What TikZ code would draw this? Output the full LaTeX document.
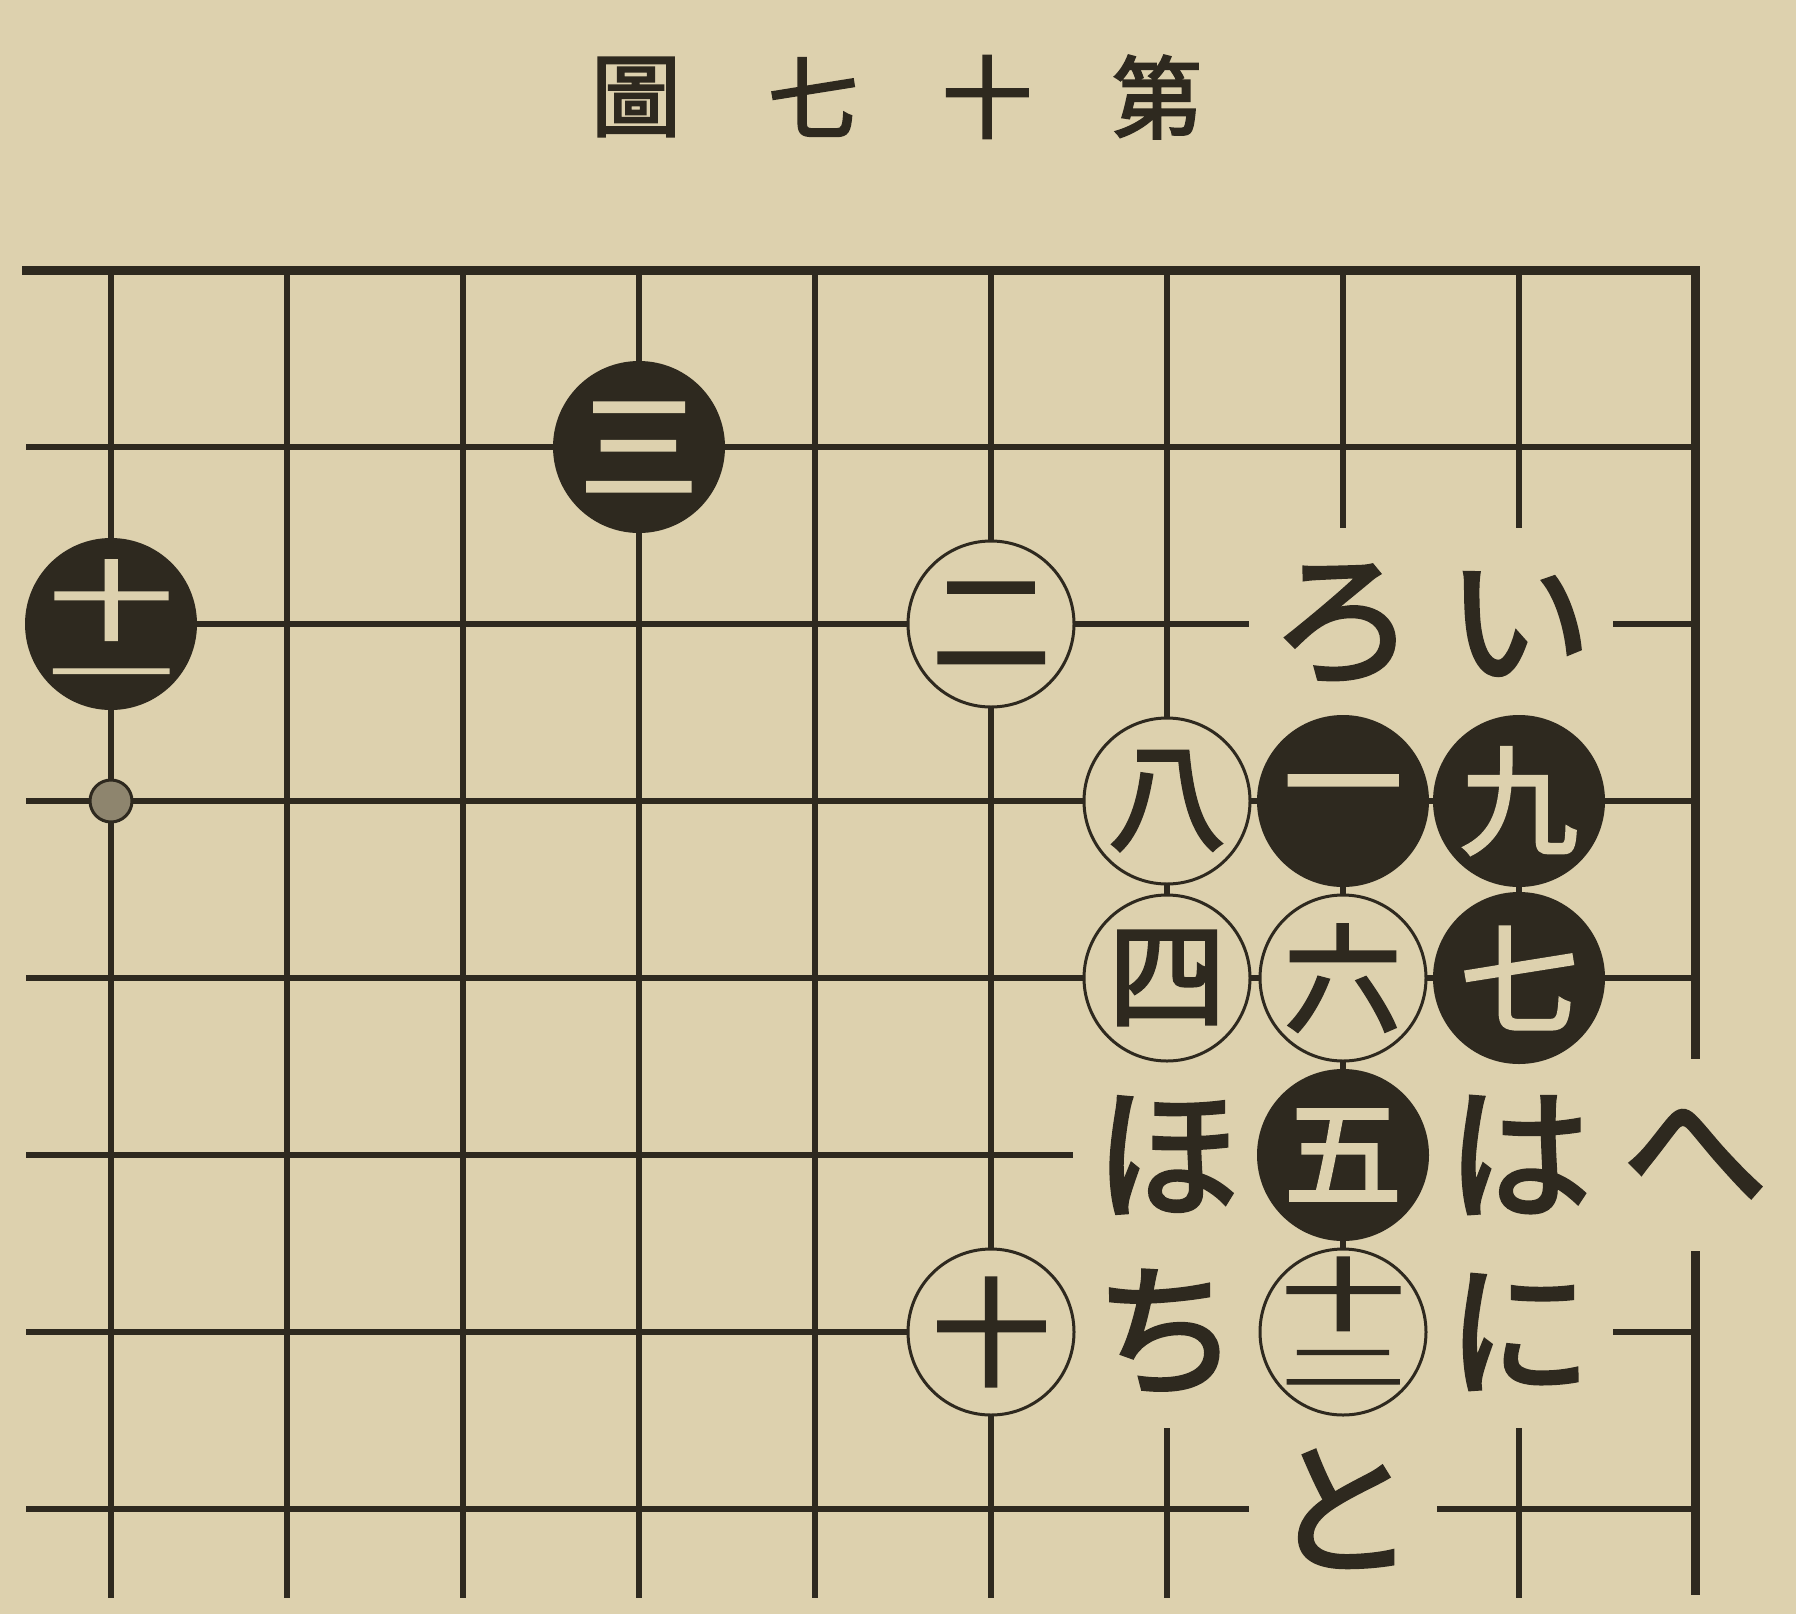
\documentclass[tikz,border=0pt]{standalone}
\usepackage{fontspec}
\usepackage{graphicx}
\newfontfamily\cjk{Noto Sans CJK JP}[FakeBold=2.5]
\definecolor{paper}{HTML}{DDD1AE}
\definecolor{ink}{HTML}{2E291F}
\newcommand{\fs}[1]{\cjk\fontsize{#1}{#1}\selectfont}
% stacked two-part numeral: #1 raise of top, #2 yscale top, #3 top glyph, #4 raise of bottom, #5 yscale bottom, #6 bottom glyph
\newcommand{\stacknum}[6]{\makebox[0pt]{\raisebox{#1}[0pt][0pt]{\scalebox{1}[#2]{#3}}}\makebox[0pt]{\raisebox{#4}[0pt][0pt]{\scalebox{1}[#5]{#6}}}}
\tikzset{
  gridline/.style={draw=ink, line width=6pt},
  edgeline/.style={draw=ink, line width=9pt},
  wstone/.style={circle, draw=ink, line width=3pt, fill=paper, minimum size=166pt, inner sep=0pt, text=ink, font=\fs{118}},
  bstone/.style={circle, draw=ink, line width=2pt, fill=ink, minimum size=170pt, inner sep=0pt, text=paper, font=\fs{118}},
  kana/.style={rectangle, fill=paper, minimum width=188pt, minimum height=192pt, inner sep=0pt, text=ink, font=\fs{145}},
  titlechar/.style={inner sep=0pt, text=ink, font=\fs{90}},
  stk/.style={inner sep=0pt, font=\fs{124}},
}
\begin{document}
\begin{tikzpicture}[x=1pt, y=-1pt]
\fill[paper] (0,0) rectangle (1796,1614);
\useasboundingbox (0,0) rectangle (1796,1614);
% title
\node[titlechar] (t1) at (636,97) {圖};
\node[titlechar] (t2) at (813,97) {七};
\node[titlechar] (t3) at (987,97) {十};
\node[titlechar] (t4) at (1157,97) {第};
% grid
\foreach \j in {1,...,7} {
  \draw[gridline] (26,{270+177*\j}) -- (1695,{270+177*\j});
}
\foreach \i in {0,...,8} {
  \draw[gridline] ({111+176*\i},270) -- ({111+176*\i},1598);
}
\draw[edgeline, line cap=rect] (26,270) -- (1695,270) -- (1695,1590);
% kana labels
\node[kana] (li) at (1519,624) {い};
\node[kana] (lro) at (1343,624) {ろ};
\node[kana] (lha) at (1519,1155) {は};
\node[kana] (lni) at (1519,1332) {に};
\node[kana] (lho) at (1167,1155) {ほ};
\node[kana] (lhe) at (1695,1155) {へ};
\node[kana] (lto) at (1343,1509) {と};
\node[kana] (lchi) at (1167,1332) {ち};
% stones
\node[bstone] (s1) at (1343,801) {一};
\node[wstone] (s2) at (991,624) {二};
\node[bstone] (s3) at (639,447) {三};
\node[wstone] (s4) at (1167,978) {四};
\node[bstone] (s5) at (1343,1155) {五};
\node[wstone] (s6) at (1343,978) {六};
\node[bstone] (s7) at (1519,978) {七};
\node[wstone] (s8) at (1167,801) {八};
\node[bstone] (s9) at (1519,801) {九};
\node[wstone] (s10) at (991,1332) {十};
\node[bstone] (s11) at (111,624) {};
\node[stk, text=paper] (s11t) at (s11.center) {\stacknum{-9pt}{0.7}{十}{-69pt}{0.45}{一}};
\node[wstone] (s12) at (1343,1332) {};
\node[stk, text=ink] (s12t) at (s12.center) {\stacknum{8pt}{0.64}{十}{-53pt}{0.4}{二}};
% small marker
\node[circle, draw=ink, line width=3pt, fill=ink!45!paper, minimum size=42pt, inner sep=0pt] (mk) at (111,801) {};
\end{tikzpicture}
\end{document}
